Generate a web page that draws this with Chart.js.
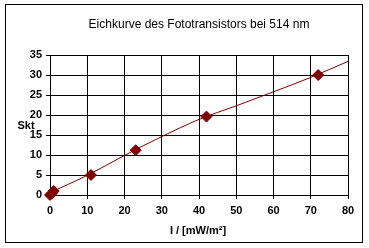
<!DOCTYPE html>
<html>
<head>
<meta charset="utf-8">
<script src="https://cdn.jsdelivr.net/npm/chart.js@4/dist/chart.umd.min.js"></script>
<style>
    html, body { margin: 0; padding: 0; background: #fff; }
    #wrap { width: 369px; height: 248px; }
</style>
</head>
<body>
<div id="wrap"><canvas id="eichChart" width="369" height="248"></canvas></div>
<script>
// Messwerte
const intensity = [0, 0.5, 1, 11, 23, 42, 72];
const skalenteile = [0, 0.4, 1, 5, 11.2, 19.6, 30];

// Trendlinie
const trendX = [0, 10, 20, 30, 40, 50, 60, 70, 80, 81.3];
const trendY = [0.6, 4.9, 9.9, 14.6, 18.9, 22.3, 25.8, 29.4, 33.4, 33.9];

const xTicks = [0, 10, 20, 30, 40, 50, 60, 70, 80];
const yTicks = [0, 5, 10, 15, 20, 25, 30, 35];

const chartTitle = 'Eichkurve des Fototransistors bei 514 nm';
const xTitle = 'I / [mW/m²]';
const yTitle = 'Skt';

const dunkelrot = '#800000';

// Rahmen und Beschriftungen
const textPlugin = {
    id: 'textPlugin',
    beforeDraw(chart) {
        const ctx = chart.ctx;
        ctx.save();
        ctx.fillStyle = '#fff';
        ctx.fillRect(0, 0, chart.width, chart.height);
        ctx.strokeStyle = '#000';
        ctx.lineWidth = 1;
        ctx.strokeRect(5.5, 4.5, 357, 238);
        ctx.restore();
    },
    afterDraw(chart) {
        const ctx = chart.ctx;
        ctx.save();
        ctx.fillStyle = '#000';
        ctx.textAlign = 'center';
        ctx.textBaseline = 'middle';
        ctx.font = '12px "Liberation Sans", Arial, sans-serif';
        ctx.fillText(chartTitle, 199, 25);
        ctx.font = 'bold 11px "Liberation Sans", Arial, sans-serif';
        ctx.fillText(xTitle, 198, 231);
        ctx.fillText(yTitle, 26, 126);
        ctx.restore();
    }
};

new Chart(document.getElementById('eichChart'), {
    type: 'scatter',
    data: {
        datasets: [{
            label: 'Trend',
            type: 'line',
            data: trendX.map((x, i) => ({ x: x, y: trendY[i] })),
            borderColor: dunkelrot,
            borderWidth: 1,
            pointRadius: 0,
            cubicInterpolationMode: 'monotone',
            clip: false,
            order: 2
        }, {
            label: 'Messwerte',
            data: intensity.map((x, i) => ({ x: x, y: skalenteile[i] })),
            pointStyle: 'rectRot',
            pointRadius: 5.5,
            backgroundColor: dunkelrot,
            borderColor: dunkelrot,
            borderWidth: 1,
            clip: false,
            order: 1
        }]
    },
    options: {
        responsive: false,
        animation: false,
        layout: { padding: { top: 55, right: 21, bottom: 0, left: 0 } },
        plugins: {
            legend: { display: false },
            title: { display: false },
            tooltip: { enabled: false }
        },
        scales: {
            x: {
                type: 'linear',
                min: 0,
                max: 80,
                afterFit: (scale) => { scale.height = 53; },
                afterBuildTicks: (scale) => { scale.ticks = xTicks.map(v => ({ value: v })); },
                grid: { color: '#000', lineWidth: 1, tickLength: 4, drawTicks: true },
                border: { color: '#000', width: 1 },
                ticks: {
                    color: '#000',
                    padding: 5,
                    font: { family: '"Liberation Sans", Arial, sans-serif', size: 11, weight: 'bold' }
                }
            },
            y: {
                type: 'linear',
                min: 0,
                max: 35,
                afterFit: (scale) => { scale.width = 50; },
                afterBuildTicks: (scale) => { scale.ticks = yTicks.map(v => ({ value: v })); },
                grid: { color: '#000', lineWidth: 1, tickLength: 4, drawTicks: true },
                border: { color: '#000', width: 1 },
                ticks: {
                    color: '#000',
                    padding: 4,
                    font: { family: '"Liberation Sans", Arial, sans-serif', size: 11, weight: 'bold' }
                }
            }
        }
    },
    plugins: [textPlugin]
});
</script>
</body>
</html>
